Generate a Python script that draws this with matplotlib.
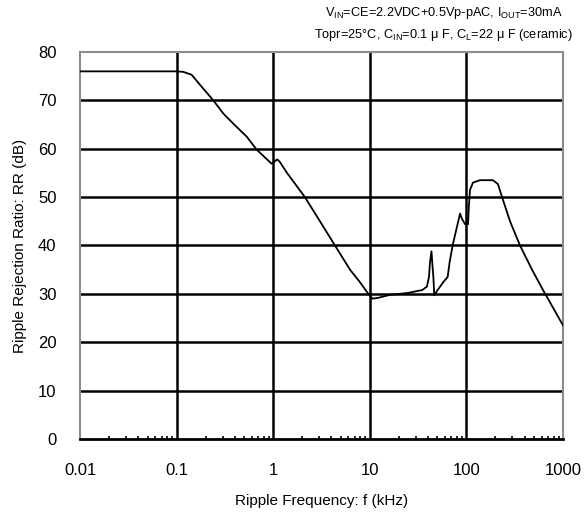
import numpy as np
import matplotlib
matplotlib.use("Agg")
import matplotlib.pyplot as plt
from matplotlib.ticker import LogLocator, NullFormatter, FixedLocator

plt.rcParams['font.family'] = ['Liberation Sans', 'Noto Sans CJK JP', 'DejaVu Sans']

# ripple frequency (kHz) vs ripple rejection (dB)
freq = [0.01, 0.05, 0.1, 0.117, 0.143, 0.175, 0.24, 0.304, 0.386, 0.532, 0.675,
        0.965, 1.10, 1.17, 1.39, 2.13, 3.05, 4.36, 6.24, 7.92, 9.65, 10.7,
        12.3, 16.2, 25, 35, 39, 41, 42, 43.5, 44.5, 45.5, 46.5, 50, 58, 64,
        67, 72, 78, 86, 90, 97, 104, 106, 109, 117, 138, 188, 212, 234, 283,
        359, 478, 621, 1000]
rr = [76, 76, 76, 75.9, 75.3, 73.2, 70.0, 67.3, 65.2, 62.5, 59.8,
      56.9, 57.8, 57.3, 55.0, 50.0, 45.0, 40.0, 35.0, 32.4, 30.0, 29.0,
      29.2, 29.8, 30.2, 30.8, 31.5, 33.5, 36.5, 38.8, 36.0, 33.5, 29.7, 30.7, 32.5, 33.5,
      36.5, 40.0, 43.0, 46.6, 45.5, 44.4, 44.4, 48.0, 51.5, 53.0, 53.5, 53.5, 52.7, 50.0, 45.0,
      40.0, 35.0, 30.8, 23.5]

xticks = [0.01, 0.1, 1, 10, 100, 1000]
xticklabels = ['0.01', '0.1', '1', '10', '100', '1000']
yticks = [0, 10, 20, 30, 40, 50, 60, 70, 80]

fig = plt.figure(figsize=(5.87, 5.17), dpi=100)
ax = fig.add_axes([0.1363, 0.1509, 0.8228, 0.7485])

ax.plot(freq, rr, color='black', lw=1.3, zorder=3)

ax.set_xscale('log')
ax.set_xlim(0.01, 1000)
ax.set_ylim(0, 80)
ax.xaxis.set_major_locator(FixedLocator(xticks))
ax.set_xticklabels(xticklabels)
ax.xaxis.set_minor_locator(LogLocator(base=10, subs=np.arange(2, 10)))
ax.xaxis.set_minor_formatter(NullFormatter())
ax.set_yticks(yticks)

for x in xticks[1:-1]:
    ax.axvline(x, color='black', lw=1.8, zorder=1)
for y in yticks[1:-1]:
    ax.axhline(y, color='black', lw=1.8, zorder=1)

ax.tick_params(axis='both', which='major', length=0, labelsize=12)
ax.tick_params(axis='x', which='major', pad=17)
ax.tick_params(axis='y', which='major', pad=17)
ax.tick_params(axis='x', which='minor', direction='in', length=2.5, width=1.2, color='black')

for s in ['left', 'top', 'right']:
    ax.spines[s].set_color('#8c8c8c')
    ax.spines[s].set_linewidth(1.5)
ax.spines['bottom'].set_color('black')
ax.spines['bottom'].set_linewidth(2)

ax.set_xlabel('Ripple Frequency: f (kHz)', fontsize=11, labelpad=12)
ax.set_ylabel('Ripple Rejection Ratio: RR (dB)', fontsize=11, labelpad=8)

fig.text(0.959, 0.975, r'V$_{\mathregular{IN}}$=CE=2.2VDC+0.5Vp-pAC, I$_{\mathregular{OUT}}$=30mA',
         ha='right', va='center', fontsize=9.2)
fig.text(0.975, 0.932, 'Topr=25°C, C$_{\\mathregular{IN}}$=0.1 μ F, C$_{\\mathregular{L}}$=22 μ F (ceramic)',
         ha='right', va='center', fontsize=9.2)

fig.savefig('out.png', dpi=100)
